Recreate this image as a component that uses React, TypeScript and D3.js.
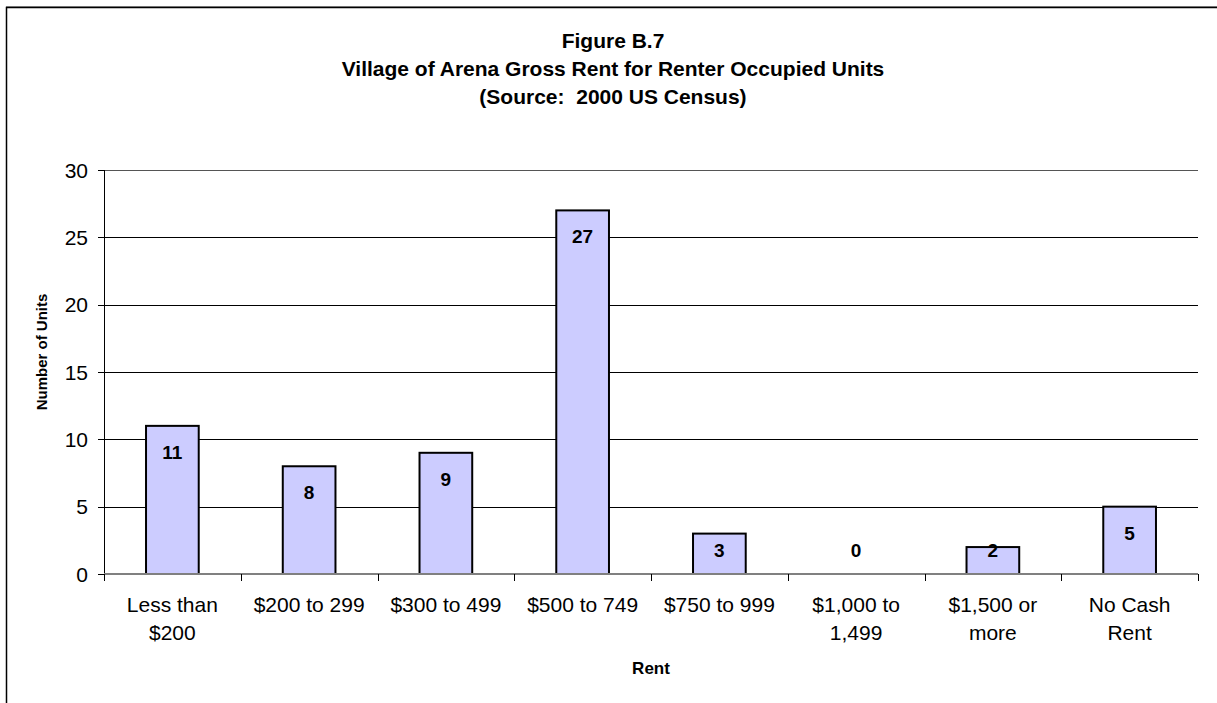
import React from "react";
import * as d3 from "d3";

// data
const categories = [
  "Less than $200",
  "$200 to 299",
  "$300 to 499",
  "$500 to 749",
  "$750 to 999",
  "$1,000 to 1,499",
  "$1,500 or more",
  "No Cash Rent",
];
const labelLines = [
  ["Less than", "$200"],
  ["$200 to 299"],
  ["$300 to 499"],
  ["$500 to 749"],
  ["$750 to 999"],
  ["$1,000 to", "1,499"],
  ["$1,500 or", "more"],
  ["No Cash", "Rent"],
];
const units = [11, 8, 9, 27, 3, 0, 2, 5];
const yTicks = [0, 5, 10, 15, 20, 25, 30];
const titleLines = [
  "Figure B.7",
  "Village of Arena Gross Rent for Renter Occupied Units",
  "(Source:  2000 US Census)",
];

const FONT = "'Liberation Sans', Arial, Helvetica, sans-serif";

const App = () => {
  const width = 1217;
  const height = 703;
  const plotLeft = 104;
  const plotRight = 1198;
  const plotTop = 170;
  const plotBottom = 574;

  const x = d3
    .scaleBand<string>()
    .domain(categories)
    .range([plotLeft, plotRight])
    .paddingInner(0.6)
    .paddingOuter(0.3);

  const y = d3.scaleLinear().domain([0, 30]).range([plotBottom, plotTop]);

  const step = x.step();

  return (
    <svg
      width={width}
      height={height}
      style={{ position: "absolute", left: 0, top: 0, background: "#fff" }}
      fontFamily={FONT}
    >
      <rect x={0} y={0} width={width} height={height} fill="#fff" />
      {/* chart border */}
      <line x1={6} x2={width} y1={6.5} y2={6.5} stroke="#999" strokeWidth={1} />
      <rect
        x={6.5}
        y={7.5}
        width={width + 10}
        height={height + 10}
        fill="none"
        stroke="#000"
        strokeWidth={1.5}
      />

      {/* title */}
      {titleLines.map((t, i) => (
        <text
          key={i}
          x={613}
          y={48 + i * 28}
          textAnchor="middle"
          fontWeight="bold"
          fontSize={21}
          style={{ whiteSpace: "pre" }}
        >
          {t}
        </text>
      ))}

      {/* gridlines + y ticks */}
      {yTicks.map((t) => (
        <g key={t}>
          {t > 0 && (
            <line
              x1={plotLeft}
              x2={plotRight}
              y1={Math.round(y(t)) + 0.5}
              y2={Math.round(y(t)) + 0.5}
              stroke={t === 30 ? "#555" : "#000"}
              strokeWidth={1}
            />
          )}
          <line
            x1={98}
            x2={plotLeft}
            y1={Math.round(y(t)) + 0.5}
            y2={Math.round(y(t)) + 0.5}
            stroke="#000"
          />
          <text x={88} y={y(t)} dy="0.36em" textAnchor="end" fontSize={21}>
            {t}
          </text>
        </g>
      ))}

      {/* bars */}
      {categories.map((c, i) =>
        units[i] > 0 ? (
          <rect
            key={c}
            x={x(c)! + 1}
            y={y(units[i])}
            width={x.bandwidth() - 2}
            height={plotBottom - y(units[i])}
            fill="#CCCCFF"
            stroke="#000"
            strokeWidth={2}
          />
        ) : null
      )}

      {/* axes */}
      <line
        x1={plotLeft + 0.5}
        x2={plotLeft + 0.5}
        y1={plotTop}
        y2={plotBottom}
        stroke="#000"
      />
      <line
        x1={plotLeft}
        x2={plotRight}
        y1={plotBottom}
        y2={plotBottom}
        stroke="#808080"
        strokeWidth={2}
      />
      {d3.range(categories.length + 1).map((i) => {
        const tx = Math.round(plotLeft + i * step) + 0.5;
        return <line key={i} x1={tx} x2={tx} y1={plotBottom} y2={581} stroke="#000" />;
      })}

      {/* value labels */}
      {categories.map((c, i) => (
        <text
          key={c}
          x={x(c)! + x.bandwidth() / 2}
          y={Math.min(y(units[i]) + 33, 557)}
          textAnchor="middle"
          fontWeight="bold"
          fontSize={19}
        >
          {units[i]}
        </text>
      ))}

      {/* category labels */}
      {categories.map((c, i) => (
        <text key={c} textAnchor="middle" fontSize={21}>
          {labelLines[i].map((l, j) => (
            <tspan key={j} x={x(c)! + x.bandwidth() / 2} y={612 + j * 28}>
              {l}
            </tspan>
          ))}
        </text>
      ))}

      {/* axis titles */}
      <text
        x={(plotLeft + plotRight) / 2}
        y={674}
        textAnchor="middle"
        fontWeight="bold"
        fontSize={17}
      >
        Rent
      </text>
      <text
        transform="translate(47,352) rotate(-90)"
        textAnchor="middle"
        fontWeight="bold"
        fontSize={15}
      >
        Number of Units
      </text>
    </svg>
  );
};

export default App;
